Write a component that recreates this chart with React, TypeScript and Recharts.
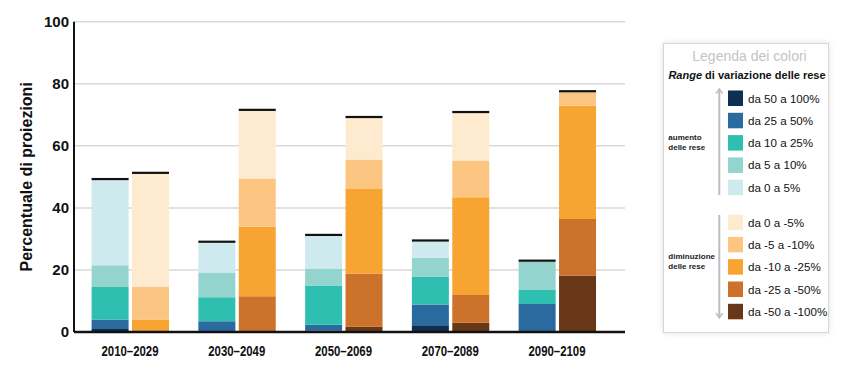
import { BarChart, Bar, XAxis, YAxis, CartesianGrid } from "recharts";

const periods = ["2010–2029", "2030–2049", "2050–2069", "2070–2089", "2090–2109"];

// aumento delle rese (stack bottom -> top)
const inc50 = [1, 0, 0.5, 2.2, 0];
const inc25 = [3, 3.5, 1.8, 6.7, 9];
const inc10 = [10.5, 7.7, 12.7, 9, 4.5];
const inc5 = [7, 8, 5.5, 6, 9.2];
const inc0 = [27.5, 9.6, 10.5, 5.3, 0];

// diminuzione delle rese (stack bottom -> top)
const dec50 = [0, 0, 1.7, 3, 18.2];
const dec25 = [0, 11.5, 17.1, 8.9, 18.2];
const dec10 = [4, 22.4, 27.3, 31.5, 36.5];
const dec5 = [10.5, 15.6, 9.5, 11.9, 4.4];
const dec0 = [36.5, 21.8, 13.4, 15.3, 0];

const yTicks = [0, 20, 40, 60, 80, 100];

const incLabels = ["da 50 a 100%", "da 25 a 50%", "da 10 a 25%", "da 5 a 10%", "da 0 a 5%"];
const decLabels = ["da 0 a -5%", "da -5 a -10%", "da -10 a -25%", "da -25 a -50%", "da -50 a -100%"];

const incColors = ["#0e2e52", "#2b6a9f", "#2ebfb1", "#93d4cf", "#cfeaee"];
const decColors = ["#feebcf", "#fcc582", "#f8a433", "#cc722b", "#673717"];

const incKeys = ["i50", "i25", "i10", "i5", "i0"];
const decKeys = ["d50", "d25", "d10", "d5", "d0"];

const data: any[] = periods.map((p, i) => ({
  period: p,
  i50: inc50[i],
  i25: inc25[i],
  i10: inc10[i],
  i5: inc5[i],
  i0: inc0[i],
  d50: dec50[i],
  d25: dec25[i],
  d10: dec10[i],
  d5: dec5[i],
  d0: dec0[i],
}));

// black line on top of each stack: drawn by the highest non-zero segment
const capFor = (keys: string[], key: string) => (props: any) => {
  const row = data[props.index];
  if (!row) return null;
  const top = [...keys].reverse().find((k) => row[k] > 0);
  if (top !== key) return null;
  const { x, y, width } = props;
  return <rect x={x} y={y - 2} width={width} height={2.2} fill="#111" />;
};

const PeriodTick = (props: any) => {
  const { x, y, payload } = props;
  return (
    <text
      x={x}
      y={y}
      dy={10}
      textAnchor="middle"
      fontSize={14}
      fontWeight="bold"
      fill="#111"
      textLength={57}
      lengthAdjust="spacingAndGlyphs"
    >
      {payload.value}
    </text>
  );
};

const Legenda = () => {
  const step = 22.3;
  return (
    <div
      style={{
        position: "absolute",
        left: 654.7,
        top: 34.7,
        width: 166,
        height: 290,
        border: "1px solid #d6d6d6",
        boxShadow: "0 0 6px rgba(0,0,0,0.12)",
        background: "#fff",
        boxSizing: "border-box",
      }}
    >
      <svg width={166} height={290} style={{ position: "absolute", left: -1, top: -1 }}>
        <text x={86.5} y={17.5} textAnchor="middle" fontSize={14} fill="#c4c4c4">
          Legenda dei colori
        </text>
        <text x={84} y={35.5} textAnchor="middle" fontSize={11} fontWeight="bold" fill="#111">
          <tspan fontStyle="italic">Range</tspan> di variazione delle rese
        </text>

        {/* frecce */}
        <line x1={56.3} y1={47} x2={56.3} y2={152} stroke="#bdbdbd" strokeWidth={2} />
        <polyline points="53,50.5 56.3,46 59.6,50.5" fill="none" stroke="#bdbdbd" strokeWidth={1.5} />
        <line x1={56.3} y1={172} x2={56.3} y2={274} stroke="#bdbdbd" strokeWidth={2} />
        <polyline points="53,270 56.3,275 59.6,270" fill="none" stroke="#bdbdbd" strokeWidth={1.5} />

        <text x={5.3} y={97.3} fontSize={8} fontWeight="bold" fill="#222">aumento</text>
        <text x={5.3} y={106.8} fontSize={8} fontWeight="bold" fill="#222">delle rese</text>
        <text x={5.3} y={216.3} fontSize={8} fontWeight="bold" fill="#222">diminuzione</text>
        <text x={5.3} y={226.3} fontSize={8} fontWeight="bold" fill="#222">delle rese</text>

        {incLabels.map((l, i) => (
          <g key={l}>
            <rect x={65} y={47.5 + i * step} width={15} height={15.5} fill={incColors[i]} />
            <text x={85} y={47.5 + i * step + 12} fontSize={11.6} fill="#111">{l}</text>
          </g>
        ))}
        {decLabels.map((l, i) => (
          <g key={l}>
            <rect x={65} y={171.6 + i * step} width={15} height={15.5} fill={decColors[i]} />
            <text x={85} y={171.6 + i * step + 12} fontSize={11.6} fill="#111">{l}</text>
          </g>
        ))}
      </svg>
    </div>
  );
};

export default function App() {
  return (
    <div style={{ position: "relative", width: 846, height: 354, fontFamily: "'Liberation Sans', Arial, sans-serif" }}>
      <BarChart
        width={640}
        height={354}
        data={data}
        margin={{ top: 13.7, right: 23, left: 0, bottom: 0 }}
        barSize={37}
        barGap={3.4}
      >
        <CartesianGrid vertical={false} stroke="#d9d9d9" strokeWidth={1.5} />
        <XAxis
          dataKey="period"
          height={30}
          padding={{ left: 2.6, right: 14.6 }}
          tickLine={false}
          tickSize={0}
          tickMargin={14}
          axisLine={{ stroke: "#111", strokeWidth: 2.5 }}
          tick={<PeriodTick />}
        />
        <YAxis
          width={66}
          domain={[0, 100]}
          ticks={yTicks}
          tickLine={false}
          tickSize={0}
          tickMargin={5}
          axisLine={{ stroke: "#111", strokeWidth: 2 }}
          tick={{ fontSize: 15, fontWeight: "bold", fill: "#111" }}
          label={{
            value: "Percentuale di proiezioni",
            angle: -90,
            position: "center",
            dx: -15,
            style: { fontSize: 16, fontWeight: "bold", fill: "#111" },
          }}
        />
        {incKeys.map((k, i) => (
          <Bar key={k} dataKey={k} stackId="inc" fill={incColors[i]} isAnimationActive={false} label={capFor(incKeys, k)} />
        ))}
        {decKeys.map((k, i) => (
          <Bar key={k} dataKey={k} stackId="dec" fill={decColors[4 - i]} isAnimationActive={false} label={capFor(decKeys, k)} />
        ))}
      </BarChart>
      <Legenda />
    </div>
  );
}
